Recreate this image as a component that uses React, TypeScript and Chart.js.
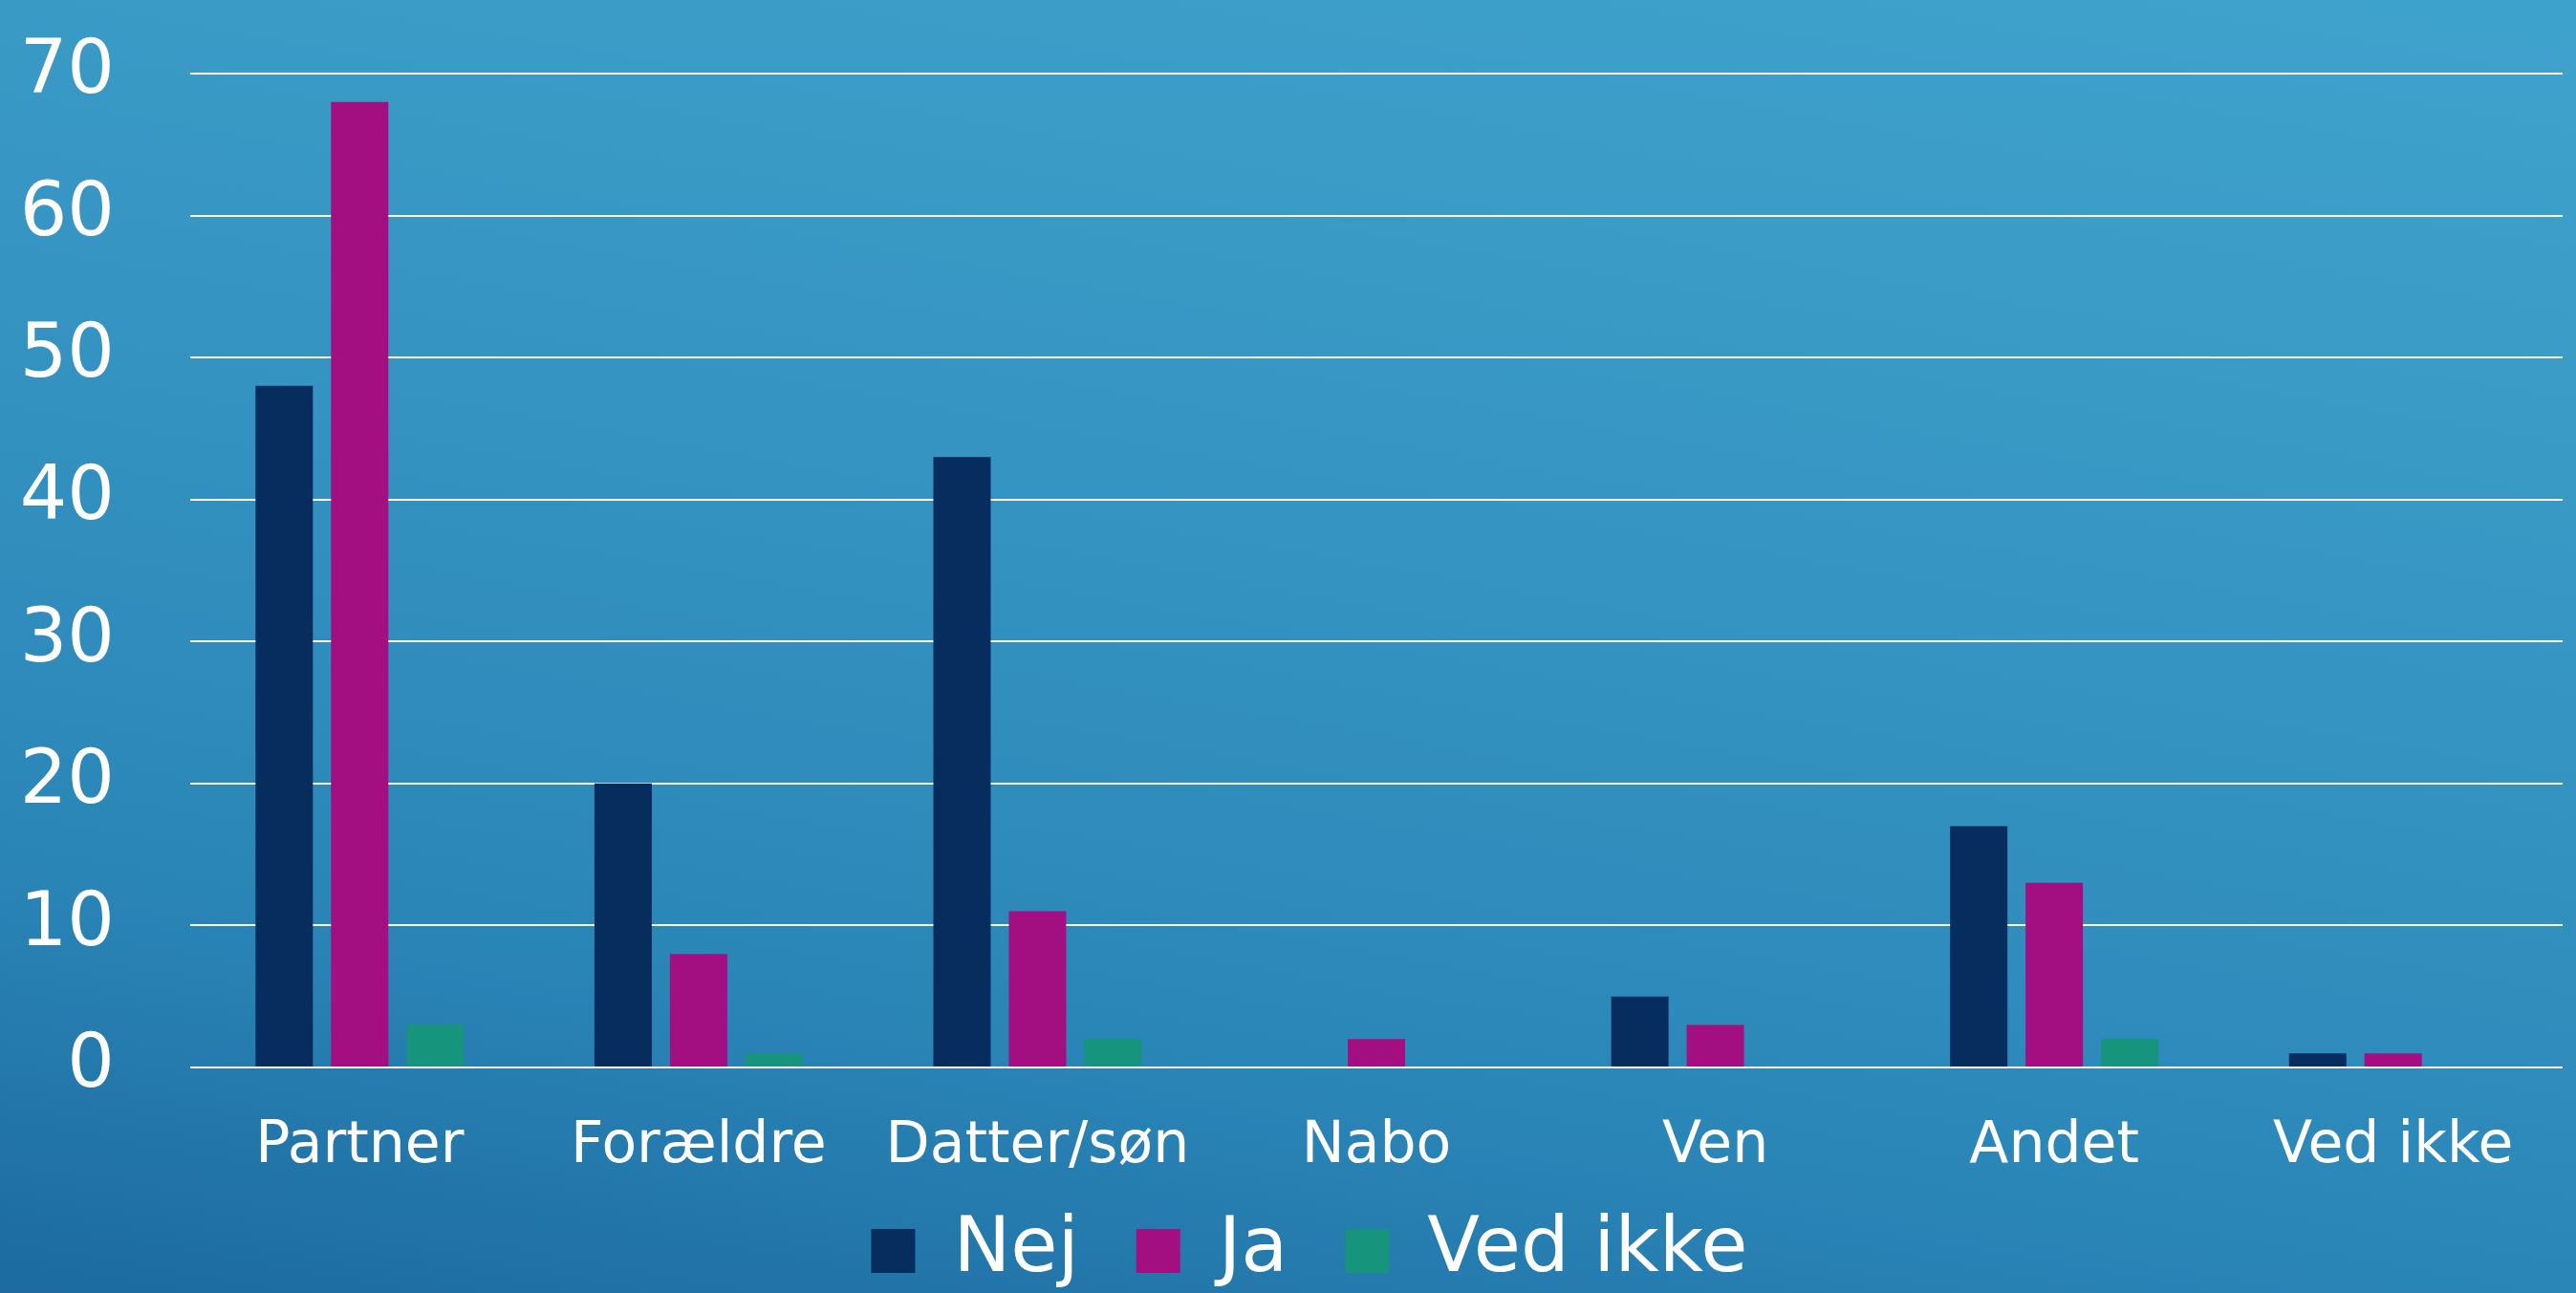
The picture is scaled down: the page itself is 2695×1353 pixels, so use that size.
import React, { useEffect, useRef } from 'react';
import Chart from 'chart.js/auto';

const categories = ['Partner', 'Forældre', 'Datter/søn', 'Nabo', 'Ven', 'Andet', 'Ved ikke'];
const seriesNames = ['Nej', 'Ja', 'Ved ikke'];
const nejValues = [48, 20, 43, 0, 5, 17, 1];
const jaValues = [68, 8, 11, 2, 3, 13, 1];
const vedIkkeValues = [3, 1, 2, 0, 0, 2, 0];
const seriesColors = ['#062D5E', '#A30F80', '#17947C'];
const yMin = 0;
const yMax = 70;
const yStep = 10;

const FONT = '"DejaVu Sans", sans-serif';

const legendShift = {
  id: 'legendShift',
  afterLayout(chart: any) {
    const l = chart.legend;
    if (l) {
      l.top -= 27;
      l.bottom -= 27;
      l.left += 19;
      l.right += 19;
    }
  },
};

export default function App() {
  const ref = useRef<HTMLCanvasElement | null>(null);
  useEffect(() => {
    if (!ref.current) return;
    const values = [nejValues, jaValues, vedIkkeValues];
    const chart = new Chart(ref.current, {
      type: 'bar',
      data: {
        labels: categories,
        datasets: seriesNames.map((name, i) => ({
          label: name,
          data: values[i],
          backgroundColor: seriesColors[i],
          borderWidth: 0,
          categoryPercentage: 0.668,
          barPercentage: 0.76,
        })),
      },
      plugins: [legendShift],
      options: {
        animation: false,
        responsive: true,
        maintainAspectRatio: false,
        layout: { padding: { left: 21, right: 14, top: 77, bottom: -33 } },
        plugins: {
          tooltip: { enabled: false },
          legend: {
            position: 'bottom',
            labels: {
              boxWidth: 46,
              boxHeight: 46,
              padding: 60,
              color: '#ffffff',
              font: { family: FONT, size: 80 },
            },
          },
        },
        scales: {
          x: {
            grid: { display: false, drawTicks: false },
            border: { display: false },
            ticks: {
              color: '#ffffff',
              font: { family: FONT, size: 60 },
              padding: 47,
              maxRotation: 0,
              autoSkip: false,
            },
            afterFit: (scale: any) => {
              scale.height = 119;
            },
          },
          y: {
            min: yMin,
            max: yMax,
            grid: {
              color: '#ffffff',
              lineWidth: 2,
              drawTicks: true,
              tickLength: 79,
              tickColor: 'rgba(0,0,0,0)',
            },
            border: { display: false },
            ticks: {
              stepSize: yStep,
              color: '#ffffff',
              font: { family: FONT, size: 78 },
              padding: 0,
            },
            afterFit: (scale: any) => {
              scale.width = 178;
            },
          },
        },
      },
    });
    return () => chart.destroy();
  }, []);
  return (
    <div
      style={{
        position: 'fixed',
        left: 0,
        top: 0,
        width: 2695,
        height: 1353,
        background:
          'linear-gradient(10deg, #1c6aa0 0%, #2b86b8 26%, #3391bf 50%, #3a9ac6 74%, #3ea3cc 100%)',
      }}
    >
      <canvas ref={ref} />
    </div>
  );
}
